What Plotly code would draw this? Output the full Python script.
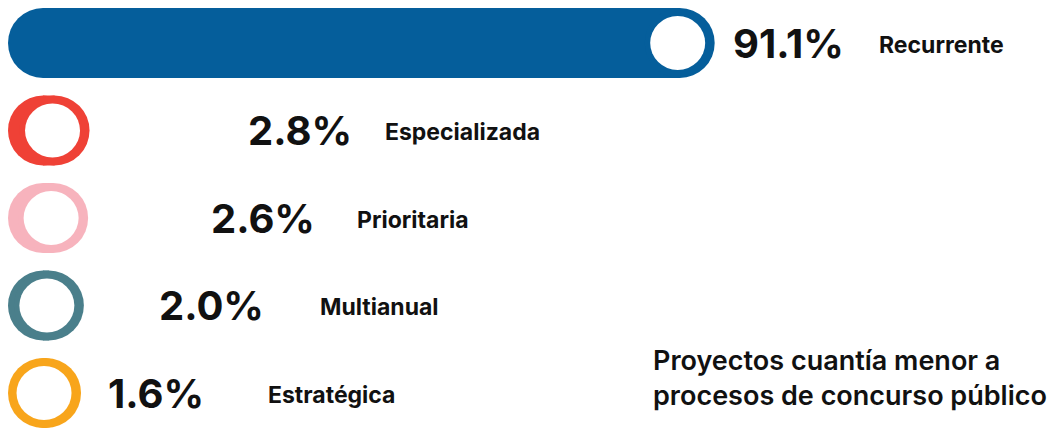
import plotly.graph_objects as go

# ---- data ----
categories = ["Recurrente", "Especializada", "Prioritaria", "Multianual", "Estratégica"]
values = [91.1, 2.8, 2.6, 2.0, 1.6]
value_labels = ["91.1%", "2.8%", "2.6%", "2.0%", "1.6%"]
colors = ["#055e9b", "#ef4136", "#f7b3bd", "#4a7f8b", "#f8a51b"]
title_lines = ["Proyectos cuantía menor a", "procesos de concurso público"]

# ---- layout / style ----
W, H = 1058, 428
OFF = 8                     # page body margin offset
PX_PER_UNIT = 7.08          # pixels per percentage point
X0_PX = 8 - OFF             # left edge of bars in px
MIN_LEN = 61.7 / PX_PER_UNIT  # base pill length (data units)
ROW0_PX, ROW_STEP = 43 - OFF, 87.5
HALF_H = 35 / ROW_STEP      # half bar height in y units
CAP_X = 35 / PX_PER_UNIT    # cap radius in x units
HOLE_OFF_X = 37 / PX_PER_UNIT
HOLE_RX = 27.5 / PX_PER_UNIT
HOLE_RY = 27 / ROW_STEP

value_label_px = [732, 247, 210, 158, 107]
cat_label_px = [877, 383, 355, 318, 266]

FONT = "Inter"

xr = [-X0_PX / PX_PER_UNIT, (W - X0_PX) / PX_PER_UNIT]
yr = [(H - ROW0_PX) / ROW_STEP, -ROW0_PX / ROW_STEP]

fig = go.Figure()
# invisible trace to hold the axes
fig.add_trace(go.Scatter(x=[0] * len(values), y=list(range(len(values))), mode="markers",
                         marker=dict(opacity=0), hoverinfo="skip", showlegend=False))

shapes = []
annotations = []
for i, (v, c) in enumerate(zip(values, colors)):
    x0 = 0.0
    x1 = v + MIN_LEN
    y0, y1 = i - HALF_H, i + HALF_H
    # pill: left cap, body, right cap
    shapes.append(dict(type="circle", xref="x", yref="y", x0=x0, x1=x0 + 2 * CAP_X, y0=y0, y1=y1,
                       fillcolor=c, line=dict(width=0), layer="below"))
    shapes.append(dict(type="rect", xref="x", yref="y", x0=x0 + CAP_X, x1=x1 - CAP_X, y0=y0, y1=y1,
                       fillcolor=c, line=dict(width=0), layer="below"))
    shapes.append(dict(type="circle", xref="x", yref="y", x0=x1 - 2 * CAP_X, x1=x1, y0=y0, y1=y1,
                       fillcolor=c, line=dict(width=0), layer="below"))
    # white hole
    hx = x1 - HOLE_OFF_X
    shapes.append(dict(type="circle", xref="x", yref="y", x0=hx - HOLE_RX, x1=hx + HOLE_RX,
                       y0=i - HOLE_RY, y1=i + HOLE_RY, fillcolor="white", line=dict(width=0),
                       layer="below"))
    annotations.append(dict(x=(value_label_px[i] - OFF) / W, xref="paper", y=i, yref="y",
                            text=value_labels[i], showarrow=False, xanchor="left", yanchor="middle",
                            xshift=-1,
                            font=dict(family=FONT, size=40, color="#111111", weight=700)))
    annotations.append(dict(x=(cat_label_px[i] - OFF) / W, xref="paper", y=i + 0.02, yref="y",
                            text=categories[i], showarrow=False, xanchor="left", yanchor="middle",
                            font=dict(family=FONT, size=23, color="#111111", weight=700)))

annotations.append(dict(x=(651 - OFF) / W, xref="paper", y=1 - (378 - OFF) / H, yref="paper",
                        text="<br>".join(title_lines), showarrow=False, xanchor="left",
                        yanchor="middle", align="left",
                        font=dict(family=FONT, size=27, color="#111111", weight=600)))

fig.update_layout(
    width=W, height=H,
    margin=dict(l=0, r=0, t=0, b=0),
    paper_bgcolor="white", plot_bgcolor="white",
    xaxis=dict(range=xr, visible=False, fixedrange=True),
    yaxis=dict(range=yr, visible=False, fixedrange=True),
    shapes=shapes, annotations=annotations, showlegend=False,
)

fig.write_html("out.html")
